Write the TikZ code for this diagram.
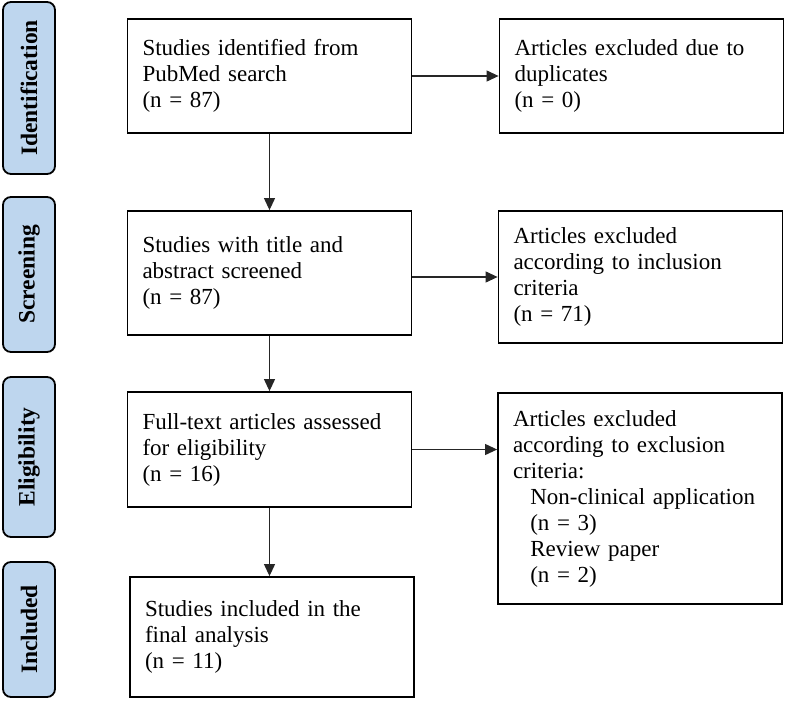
\documentclass[tikz,border=0pt]{standalone}
\usepackage{fontspec}
\setmainfont{Liberation Serif}
\usepackage{xcolor}
\usetikzlibrary{arrows.meta, positioning, calc}
\definecolor{stageBlue}{RGB}{190, 214, 238}

\begin{document}
\begin{tikzpicture}[
    x=1pt, y=-1pt,
    box/.style={draw, line width=1.8pt, inner xsep=15pt, text width=254pt, align=left, font=\fontsize{23}{26}\selectfont},
    stage/.style={draw, line width=1.8pt, rounded corners=8pt, fill=stageBlue, rotate=90, minimum height=52pt, font=\fontsize{23.5}{26}\selectfont\bfseries},
    arrow/.style={-{Triangle[length=12pt, width=11pt]}, line width=1.1pt, black!85}
]
\useasboundingbox (0, 0) rectangle (786, 701);

% Stage labels
\node[stage, minimum width=172pt] (identLbl) at (29, 88) {Identification};
\node[stage, minimum width=155pt] (screenLbl) at (29, 274.5) {Screening};
\node[stage, minimum width=160pt] (eligLbl) at (29, 457) {Eligibility};
\node[stage, minimum width=135pt] (inclLbl) at (29, 629.5) {Included};

% Main flow
\node[box, minimum height=114pt] (found) at (269.5, 76) {Studies identified from\\PubMed search\\(n = 87)};

\node[box, minimum height=124pt] (screened) at (269.5, 273) {Studies with title and\\abstract screened\\(n = 87)};

\node[box, minimum height=115pt] (fulltext) at (269.5, 449.5) {Full-text articles assessed\\for eligibility\\(n = 16)};

\node[box, minimum height=120pt] (final) at (272, 637) {Studies included in the\\final analysis\\(n = 11)};

% Exclusions
\node[box, minimum height=114pt] (dupl) at (641.5, 76) {Articles excluded due to\\duplicates\\(n = 0)};

\node[box, minimum height=132pt] (inclExcl) at (640.5, 277) {Articles excluded\\according to inclusion\\criteria\\(n = 71)};

\node[box, minimum height=211pt] (exclExcl) at (640, 498.5) {Articles excluded\\according to exclusion\\criteria:\\
\hspace*{0.75em}Non-clinical application\\\hspace*{0.75em}(n = 3)\\
\hspace*{0.75em}Review paper\\\hspace*{0.75em}(n = 2)};

% Arrows
\draw[arrow] (found) -- (screened);
\draw[arrow] (screened) -- (fulltext);
\draw[arrow] (fulltext.south) -- (fulltext.south |- final.north);
\draw[arrow] (found) -- (dupl);
\draw[arrow] (screened.east |- inclExcl) -- (inclExcl);
\draw[arrow] (fulltext) -- (fulltext -| exclExcl.west);

\end{tikzpicture}
\end{document}
